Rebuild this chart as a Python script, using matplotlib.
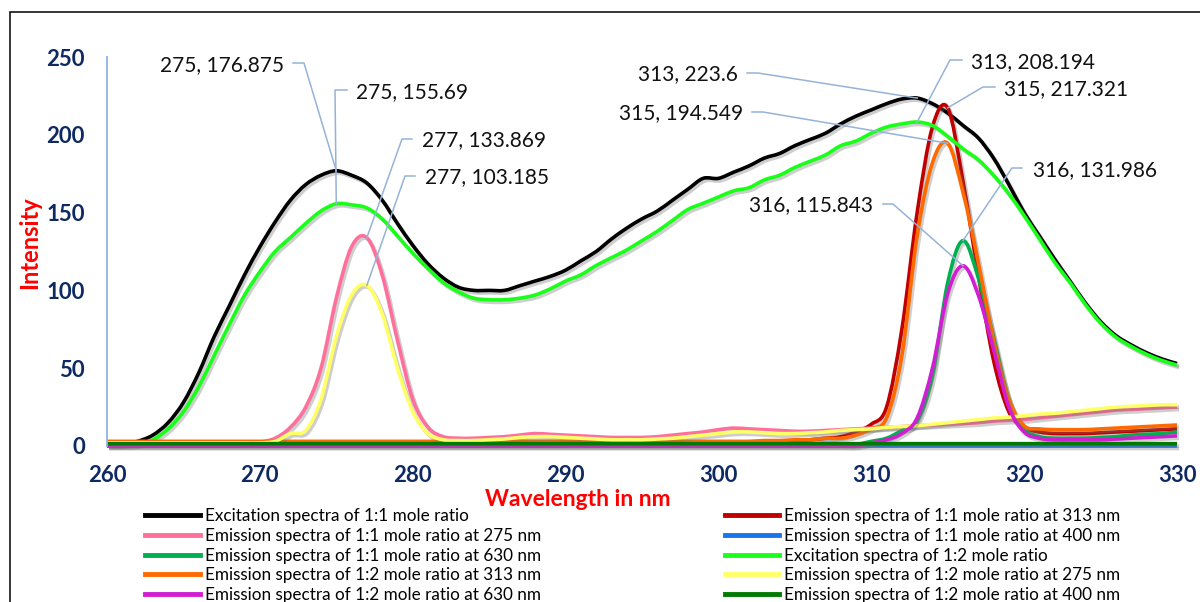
import matplotlib
matplotlib.use("Agg")
import matplotlib.pyplot as plt
from matplotlib import patheffects as pe
from matplotlib.lines import Line2D
from matplotlib.patches import Rectangle, PathPatch
from matplotlib.path import Path

W, H = 1200, 602

# wavelength axis, 1 nm steps
wavelength = list(range(260, 331))

# excitation spectra
exc_11 = [1, 1, 3, 7, 15, 28, 47, 70, 90, 110,
          128, 144, 158, 168, 174, 176.875, 174, 169, 158, 143,
          129, 117, 108, 102, 100, 100, 100, 103, 106, 109,
          113, 119, 125, 133, 140, 146, 151, 158, 165, 172,
          172, 176, 180, 185, 188, 193, 197, 201, 207, 212,
          216, 220, 223, 223.6, 220, 214, 206, 198, 185, 168,
          150, 135, 120, 106, 92, 80, 71, 65, 60, 56,
          53]
exc_12 = [0.5, 0.5, 1, 4, 11, 22, 38, 58, 78, 97,
          112, 125, 134, 143, 151, 155.69, 155, 153, 146, 135,
          124, 114, 105, 99, 95, 94, 94, 95, 97, 101,
          106, 110, 116, 121, 126, 132, 138, 145, 152, 156,
          160, 164, 166, 171, 174, 179, 183, 187, 193, 196,
          201, 205, 207, 208.194, 206, 199, 191, 184, 174, 162,
          148, 133, 118, 105, 91, 79, 70, 64, 59, 55,
          52]

# emission spectra, 1:1 mole ratio
em_11_313 = [2, 2, 2, 2, 2, 2, 2, 2, 2, 2,
             2, 2, 2, 2, 2, 2, 2, 2, 2, 2,
             2, 2, 2, 2, 2, 2, 2, 2, 2, 2,
             2, 2, 2, 2, 2, 2, 2, 2, 2, 2,
             2, 2, 2.5, 2.5, 3, 3, 4, 5, 6, 9,
             14, 25, 75, 150, 205, 217.321, 170, 110, 55, 22,
             12, 9, 8, 8, 8, 8.5, 9, 9.5, 10, 10.5,
             11]
em_11_275 = [2, 2, 2, 2, 2, 2, 2, 2, 2, 2,
             2.5, 5, 12, 25, 50, 95, 128, 133.869, 110, 68,
             30, 12, 6, 5, 5, 5.5, 6, 7, 8, 7.5,
             7, 6.5, 6, 5.5, 5.5, 5.5, 6, 7, 8, 9,
             10.5, 11.5, 11, 10.5, 10, 9.5, 9.5, 10, 10.5, 11,
             11.5, 12, 12.5, 13, 13.5, 14, 14.5, 15, 16, 16.5,
             17, 18, 19, 20, 21, 22, 23, 23.5, 24, 24.5,
             25]
em_11_400 = [0, 0, 0, 0, 0, 0, 0, 0, 0, 0,
             0, 0, 0, 0, 0, 0, 0, 0, 0, 0,
             0, 0, 0, 0, 0, 0, 0, 0, 0, 0,
             0, 0, 0, 0, 0, 0, 0, 0, 0, 0,
             0, 0, 0, 0, 0, 0, 0, 0, 0, 0,
             0, 0, 0, 0, 0, 0, 0, 0, 0, 0,
             0, 0, 0, 0, 0, 0, 0, 0, 0, 0,
             0]
em_11_630 = [1, 1, 1, 1, 1, 1, 1, 1, 1, 1,
             1, 1, 1, 1, 1, 1, 1, 1, 1, 1,
             1, 1, 1, 1, 1, 1, 1, 1, 1, 1,
             1, 1, 1, 1, 1, 1, 1, 1, 1, 1,
             1, 1, 1, 1, 1, 1, 1, 1, 1, 1,
             3, 5, 10, 16, 45, 105, 131.986, 108, 70, 30,
             11, 6, 5, 5, 5, 5.5, 6, 7, 7.5, 8,
             9]

# emission spectra, 1:2 mole ratio
em_12_313 = [3, 3, 3, 3, 3, 3, 3, 3, 3, 3,
             3, 3, 3, 3, 3, 3, 3, 3, 3, 3,
             3, 3, 3, 3, 3, 3, 3, 3, 3, 3,
             3, 3, 3, 3, 3, 3, 3, 3, 3, 3,
             3, 3, 3, 3.5, 3.5, 4, 4, 5, 5, 7,
             11, 18, 58, 135, 182, 194.549, 163, 118, 68, 30,
             13, 11, 10.5, 10.5, 10.5, 11, 11.5, 12, 12.5, 13,
             13.5]
em_12_275 = [2, 2, 2, 2, 2, 2, 2, 2, 2, 2,
             2, 3, 8, 10, 30, 70, 97, 103.185, 85, 50,
             22, 8, 4, 3.5, 3.5, 4, 4.5, 5.5, 6, 6,
             5.5, 5, 4.5, 4, 4, 4, 4.5, 5, 6, 7,
             8, 9, 9, 8.5, 8, 8, 8.5, 9, 10, 10.5,
             11, 12, 12.5, 13, 14, 15, 16, 17, 18, 18.5,
             19.5, 20.5, 21, 22, 23, 24, 25, 25.5, 26, 26.5,
             26.5]
em_12_400 = [1.5, 1.5, 1.5, 1.5, 1.5, 1.5, 1.5, 1.5, 1.5, 1.5,
             1.5, 1.5, 1.5, 1.5, 1.5, 1.5, 1.5, 1.5, 1.5, 1.5,
             1.5, 1.5, 1.5, 1.5, 1.5, 1.5, 1.5, 1.5, 1.5, 1.5,
             1.5, 1.5, 1.5, 1.5, 1.5, 1.5, 1.5, 1.5, 1.5, 1.5,
             1.5, 1.5, 1.5, 1.5, 1.5, 1.5, 1.5, 1.5, 1.5, 1.5,
             1.5, 1.5, 1.5, 1.5, 1.5, 1.5, 1.5, 1.5, 1.5, 1.5,
             1.5, 1.5, 1.5, 1.5, 1.5, 1.5, 1.5, 1.5, 1.5, 1.5,
             1.5]
em_12_630 = [0, 0, 0, 0, 0, 0, 0, 0, 0, 0,
             0, 0, 0, 0, 0, 0, 0, 0, 0, 0,
             0, 0, 0, 0, 0, 0, 0, 0, 0, 0,
             0, 0, 0, 0, 0, 0, 0, 0, 0, 0,
             0, 0, 0, 0, 0, 0, 0, 0, 0, 0,
             2, 4, 8, 18, 50, 98, 115.843, 97, 62, 25,
             9, 5, 4, 4, 4, 4, 4.5, 5, 5.5, 6,
             6.5]

# (label, values, colour) in excel series order
series = [
    ("Excitation spectra of 1:1 mole ratio", exc_11, "#000000"),
    ("Emission spectra of 1:1 mole ratio at 313 nm", em_11_313, "#C00000"),
    ("Emission spectra of 1:1 mole ratio at 275 nm", em_11_275, "#FF6F9C"),
    ("Emission spectra of 1:1 mole ratio at 400 nm", em_11_400, "#1A75E8"),
    ("Emission spectra of 1:1 mole ratio at 630 nm", em_11_630, "#00B050"),
    ("Excitation spectra of 1:2 mole ratio", exc_12, "#19FF19"),
    ("Emission spectra of 1:2 mole ratio at 313 nm", em_12_313, "#FF6A00"),
    ("Emission spectra of 1:2 mole ratio at 275 nm", em_12_275, "#FFFF66"),
    ("Emission spectra of 1:2 mole ratio at 630 nm", em_12_630, "#D21ED2"),
    ("Emission spectra of 1:2 mole ratio at 400 nm", em_12_400, "#007A00"),
]

plt.rcParams['font.family'] = ['Lato', 'DejaVu Sans']


def smooth_path(xs, ys):
    # excel style "smoothed line": bezier through every data point
    verts = [(xs[0], ys[0])]
    codes = [Path.MOVETO]
    n = len(xs)
    for i in range(n - 1):
        a = i - 1 if i > 0 else i
        d = i + 2 if i + 2 < n else i + 1
        c1 = (xs[i] + (xs[i + 1] - xs[a]) / 6, ys[i] + (ys[i + 1] - ys[a]) / 6)
        c2 = (xs[i + 1] - (xs[d] - xs[i]) / 6, ys[i + 1] - (ys[d] - ys[i]) / 6)
        verts += [c1, c2, (xs[i + 1], ys[i + 1])]
        codes += [Path.CURVE4] * 3
    return Path(verts, codes)


fig = plt.figure(figsize=(W / 100, H / 100), dpi=100)
ax = fig.add_axes([107 / W, 1 - 446 / H, (1177 - 107) / W, (446 - 57) / H])

shadow = [pe.SimpleLineShadow(offset=(1.5, -1.8), shadow_color='0.45', alpha=0.35),
          pe.Normal()]

handles = {}
for label, vals, col in series:
    patch = PathPatch(smooth_path(wavelength, vals), fill=False, edgecolor=col,
                      lw=2.6, joinstyle='round', capstyle='butt',
                      path_effects=shadow, clip_on=False)
    ax.add_patch(patch)
    handles[label] = Line2D([], [], color=col, lw=3.5, label=label)

ax.set_xlim(260, 330)
ax.set_ylim(0, 250)
ax.set_xticks(range(260, 331, 10))
ax.set_yticks(range(0, 251, 50))
for s in ['top', 'right', 'bottom']:
    ax.spines[s].set_visible(False)
ax.spines['left'].set_color('#8EB4E3')
ax.spines['left'].set_linewidth(1.3)
ax.tick_params(length=0, labelsize=16, labelcolor='#0F2A62')
ax.tick_params(axis='y', pad=16)
ax.tick_params(axis='x', pad=14)
for t in ax.get_xticklabels() + ax.get_yticklabels():
    t.set_fontweight('bold')

fig.text(578 / W, 1 - 499 / H, "Wavelength in nm", color='#FF0000',
         fontsize=16.5, fontweight='bold', ha='center', va='center')
fig.text(30 / W, 1 - 243 / H, "Intensity", color='#FF0000', rotation=90,
         fontsize=17, fontweight='bold', ha='center', va='center')

# data labels with leader lines
lead_col = '#95B3D7'
to_fig = fig.transFigure.inverted()


def px(x, y):
    return (x / W, 1 - y / H)


def callout(vals, wl, tx, ty, side, stub):
    i = wavelength.index(wl)
    pt = to_fig.transform(ax.transData.transform((wl, vals[i])))
    txt = "%d, %s" % (wl, ("%.3f" % vals[i]).rstrip('0').rstrip('.'))
    ha = 'left' if side == 'left' else 'right'
    fig.text(tx / W, 1 - ty / H, txt, fontsize=15, ha=ha, va='center',
             color='#111111')
    a = px(*stub[0])
    b = px(*stub[1])
    fig.add_artist(Line2D([a[0], b[0], pt[0]], [a[1], b[1], pt[1]],
                          color=lead_col, lw=1.1, transform=fig.transFigure))


callout(exc_11, 275, 284, 65, 'right', [(293, 63), (304, 63)])
callout(exc_12, 275, 356, 92, 'left', [(347, 90), (335, 90)])
callout(em_11_275, 277, 422, 140, 'left', [(412, 139), (402, 139)])
callout(em_12_275, 277, 425, 177, 'left', [(415, 176), (405, 176)])
callout(exc_11, 313, 738, 74, 'right', [(747, 73), (758, 73)])
callout(em_12_313, 315, 743, 113, 'right', [(752, 112), (763, 112)])
callout(exc_12, 313, 971, 62, 'left', [(962, 60), (950, 60)])
callout(em_11_313, 315, 1004, 89, 'left', [(995, 87), (983, 87)])
callout(em_11_630, 316, 1033, 170, 'left', [(1022, 168), (1012, 168)])
callout(em_12_630, 316, 873, 205, 'right', [(883, 204), (893, 204)])

# legend: excel fills rows, matplotlib fills columns
order = [0, 2, 4, 6, 8, 1, 3, 5, 7, 9]
hs = [handles[series[k][0]] for k in order]
leg = fig.legend(hs, [h.get_label() for h in hs], loc='upper left',
                 bbox_to_anchor=(145 / W, 1 - 508 / H), ncol=2, frameon=False,
                 fontsize=12.3, handlelength=3.2, handletextpad=0.3,
                 columnspacing=10.75, labelspacing=0.22, borderpad=0,
                 borderaxespad=0)

# outer chart frame (cropped at right and bottom)
fig.add_artist(Rectangle((10 / W, -0.2), 1.2, 1.2 - 12 / H, fill=False,
                         edgecolor='black', lw=1.1, transform=fig.transFigure))

fig.savefig("out.png", dpi=100)
